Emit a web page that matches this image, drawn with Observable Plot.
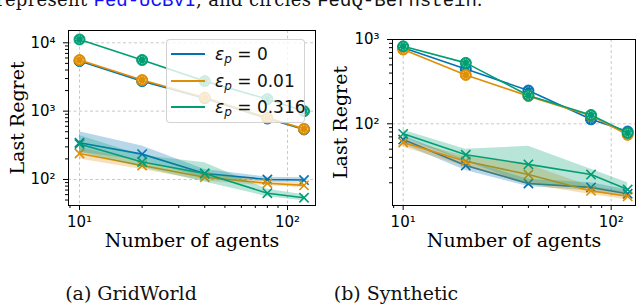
<!DOCTYPE html>
<html><head><meta charset="utf-8">
<script src="https://cdn.jsdelivr.net/npm/d3@7"></script>
<script src="https://cdn.jsdelivr.net/npm/@observablehq/plot@0.6"></script>
<style>
html,body{margin:0;padding:0;background:#fff;}
#page{position:relative;width:640px;height:305px;overflow:hidden;background:#fff;}
.panel{position:absolute;top:25px;}
.panel svg{overflow:visible}
#top{position:absolute;left:-4px;top:-9px;font-family:"DejaVu Serif";font-size:18px;line-height:18px;white-space:nowrap;color:#111;letter-spacing:0.3px}
#top .mono{font-family:"Liberation Mono";font-size:19px;letter-spacing:0}
.cap{position:absolute;top:284px;font-family:"DejaVu Serif";font-size:19px;line-height:18px;transform:translateX(-50%);white-space:nowrap;color:#111}
#legend{position:absolute;left:166px;top:14px;width:139px;height:84px;box-sizing:border-box;background:rgba(255,255,255,0.8);border:1px solid rgba(200,200,200,0.8);border-radius:4px;font-family:"DejaVu Sans";font-size:17px;color:#111}
#legend .row{position:absolute;left:0;height:20px;line-height:20px;white-space:nowrap}
#legend .sw{position:absolute;left:4px;top:9px;width:34px;height:2px}
#legend .lab{position:absolute;left:48px;top:0}
#legend sub{font-size:12px;vertical-align:-3px}
</style></head>
<body><div id="page">
<div id="top">represent <span class="mono" style="color:#1010ff">Fed-UCBVI</span>, and circles <span class="mono">FedQ-Bernstein</span>.</div>
<div id="left" class="panel" style="left:0"></div>
<div id="right" class="panel" style="left:320px"></div>
<div class="cap" style="left:131px">(a) GridWorld</div>
<div class="cap" style="left:396px">(b) Synthetic</div>
</div>
<script>
// ---- data ----
const agents = [10, 20, 40, 80, 120];
const epsLabels = ["0", "0.01", "0.316"];
const colors = ["#0173b2", "#de8f05", "#029e73"];

// GridWorld: circles (FedQ-Bernstein)
const gwBern0 = [5400, 2750, 1550, 780, 540];
const gwBern1 = [5600, 2850, 1580, 800, 550];
const gwBern2 = [11200, 5600, 2750, 1500, 1000];
// GridWorld: crosses (Fed-UCBVI) with bands
const gwUcb0 = [345, 235, 122, 100, 98];
const gwUcb1 = [240, 160, 108, 88, 82];
const gwUcb2 = [330, 180, 122, 63, 54];
const gwUcb0Lo = [250, 190, 105, 93, 91];
const gwUcb0Hi = [500, 310, 140, 108, 106];
const gwUcb1Lo = [200, 140, 95, 81, 76];
const gwUcb1Hi = [290, 185, 120, 96, 89];
const gwUcb2Lo = [250, 150, 92, 56, 49];
const gwUcb2Hi = [440, 225, 175, 72, 60];

// Synthetic: circles
const synBern0 = [800, 447, 248, 113, 81];
const synBern1 = [760, 380, 213, 125, 74];
const synBern2 = [830, 528, 217, 127, 78];
// Synthetic: crosses with bands
const synUcb0 = [65, 32, 19.6, 17.6, 14.8];
const synUcb1 = [60, 36, 25, 16, 13.8];
const synUcb2 = [76, 43, 33, 25, 16.6];
const synUcb0Lo = [57, 28, 18, 16, 13.5];
const synUcb0Hi = [72, 37, 22, 20, 16.5];
const synUcb1Lo = [53, 31, 19, 14.5, 12.5];
const synUcb1Hi = [66, 41, 33, 18, 15.5];
const synUcb2Lo = [68, 36, 19, 17, 15];
const synUcb2Hi = [84, 50, 54, 29, 20];

const xMajor = [10, 100];
const xMinor = [9, 20, 30, 40, 50, 60, 70, 80, 90];
const gwYMajor = [100, 1000, 10000];
const gwYMinor = [50, 60, 70, 80, 90, 200, 300, 400, 500, 600, 700, 800, 900, 2000, 3000, 4000, 5000, 6000, 7000, 8000, 9000];
const synYMajor = [100, 1000];
const synYMinor = [20, 30, 40, 50, 60, 70, 80, 90, 200, 300, 400, 500, 600, 700, 800, 900];

const supDigits = {"0":"⁰","1":"¹","2":"²","3":"³","4":"⁴","5":"⁵"};
const sup = v => "10" + String(Math.round(Math.log10(v))).split("").map(c => supDigits[c]).join("");

function rows(arr) { return agents.map((x, i) => ({x, y: arr[i]})); }
function bandRows(lo, hi) { return agents.map((x, i) => ({x, lo: lo[i], hi: hi[i]})); }

function panel(o) {
  const marks = [
    Plot.gridX(xMajor, {stroke: "#b0b0b0", strokeOpacity: 0.7, strokeDasharray: "3,2.5"}),
    Plot.gridY(o.yMajor, {stroke: "#b0b0b0", strokeOpacity: 0.7, strokeDasharray: "3,2.5"})
  ];
  for (let k = 0; k < 3; k++) {
    const c = colors[k];
    marks.push(
      Plot.areaY(bandRows(o.lo[k], o.hi[k]), {x: "x", y1: "lo", y2: "hi", fill: c, fillOpacity: 0.28}),
      Plot.line(rows(o.ucb[k]), {x: "x", y: "y", stroke: c, strokeWidth: 1.6}),
      Plot.dot(rows(o.ucb[k]), {x: "x", y: "y", symbol: "times", r: 4.3, stroke: c, strokeWidth: 1.6}),
      Plot.line(rows(o.bern[k]), {x: "x", y: "y", stroke: c, strokeWidth: 1.6}),
      Plot.dot(rows(o.bern[k]), {x: "x", y: "y", r: 5.5, fill: c, stroke: c, strokeWidth: 1}),
      Plot.dot(rows(o.bern[k]), {x: "x", y: "y", r: 3.6, fill: "none", stroke: "white", strokeOpacity: 0.55, strokeDasharray: "1.3,1.3", strokeWidth: 1})
    );
  }
  marks.push(
    Plot.axisX(xMajor, {tickSize: 5, tickPadding: 6, tickFormat: sup, fontSize: 15, label: null}),
    Plot.axisX(xMinor, {tickSize: 3, tickFormat: () => "", label: null}),
    Plot.axisY(o.yMajor, {tickSize: 5, tickPadding: 8, tickFormat: sup, fontSize: 15, label: null}),
    Plot.axisY(o.yMinor, {tickSize: 3, tickFormat: () => "", label: null}),
    Plot.frame({stroke: "#000", strokeWidth: 1}),
    Plot.text(["Last Regret"], {text: d => d, frameAnchor: "left", textAnchor: "middle", lineAnchor: "middle", rotate: -90, dx: o.ylabDx, fontFamily: "DejaVu Serif", fontSize: 19}),
    Plot.text(["Number of agents"], {text: d => d, frameAnchor: "bottom", textAnchor: "middle", lineAnchor: "middle", dy: 35, fontFamily: "DejaVu Serif", fontSize: 19})
  );
  return Plot.plot({
    width: 320, height: 235,
    marginLeft: o.marginLeft, marginRight: 5, marginTop: o.marginTop, marginBottom: 55,
    style: {fontFamily: "DejaVu Sans", fontSize: "15px", background: "transparent", overflow: "visible", color: "#000"},
    x: {type: "log", domain: o.xDomain},
    y: {type: "log", domain: o.yDomain},
    marks
  });
}

document.getElementById("left").appendChild(panel({
  xDomain: [8.852, 136.3], yDomain: [41.6, 15140],
  yMajor: gwYMajor, yMinor: gwYMinor,
  bern: [gwBern0, gwBern1, gwBern2],
  ucb: [gwUcb0, gwUcb1, gwUcb2],
  lo: [gwUcb0Lo, gwUcb1Lo, gwUcb2Lo],
  hi: [gwUcb0Hi, gwUcb1Hi, gwUcb2Hi],
  marginLeft: 68, marginTop: 5, ylabDx: -51
}));
document.getElementById("right").appendChild(panel({
  xDomain: [8.886, 130.9], yDomain: [10.74, 1000],
  yMajor: synYMajor, yMinor: synYMinor,
  bern: [synBern0, synBern1, synBern2],
  ucb: [synUcb0, synUcb1, synUcb2],
  lo: [synUcb0Lo, synUcb1Lo, synUcb2Lo],
  hi: [synUcb0Hi, synUcb1Hi, synUcb2Hi],
  marginLeft: 72, marginTop: 14, ylabDx: -52
}));

// legend (HTML overlay on the GridWorld panel)
const lg = document.createElement("div");
lg.id = "legend";
epsLabels.forEach((lab, k) => {
  const r = document.createElement("div");
  r.className = "row";
  r.style.top = (4 + k * 26.5) + "px";
  r.innerHTML = `<div class="sw" style="background:${colors[k]}"></div><div class="lab"><i>ε</i><sub><i>p</i></sub> = ${lab}</div>`;
  lg.appendChild(r);
});
document.getElementById("left").appendChild(lg);
</script>
</body></html>
